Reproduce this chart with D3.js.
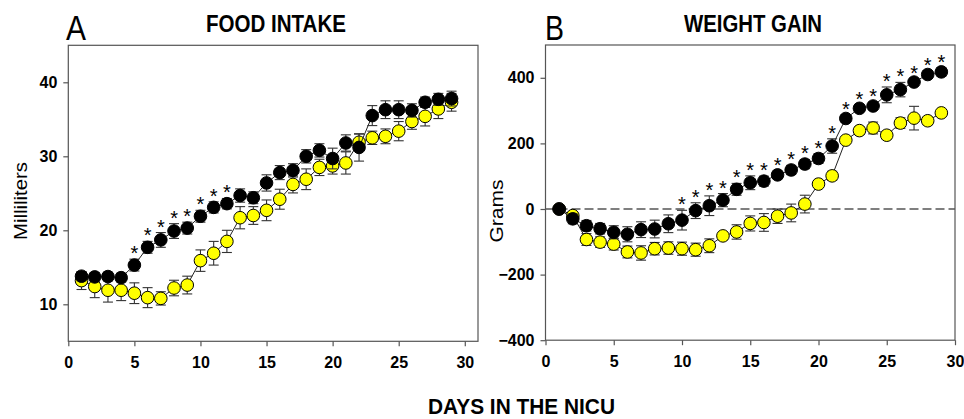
<!DOCTYPE html>
<html>
<head>
<meta charset="utf-8">
<script src="https://cdn.jsdelivr.net/npm/d3@7"></script>
<style>
  html, body { margin: 0; padding: 0; background: #fff; }
  svg { display: block; }
  text { font-family: "Liberation Sans", Arial, sans-serif; }
</style>
</head>
<body>
<svg id="chart" width="964" height="419"></svg>
<script>
// ---------- DATA ----------
const days = [1,2,3,4,5,6,7,8,9,10,11,12,13,14,15,16,17,18,19,20,21,22,23,24,25,26,27,28,29];

// Panel A: food intake (mL)
const foodBlack = [13.8,13.7,13.75,13.6,15.3,17.7,18.7,19.9,20.3,21.9,23.1,23.6,24.7,24.4,26.4,27.8,28.1,30.0,30.8,29.7,31.8,31.2,35.5,36.3,36.3,36.2,37.3,37.7,37.8];
const foodBlackErr = [0.6,0.6,0.6,0.6,0.8,0.8,1.0,1.0,0.8,0.8,0.75,0.7,0.9,0.8,1.1,0.95,0.9,0.9,0.9,1.4,1.1,1.85,1.35,1.2,1.2,0.9,0.7,0.8,1.0];
const foodYellow = [13.2,12.4,11.9,11.9,11.5,10.9,10.8,12.2,12.6,15.9,16.9,18.5,21.7,22.0,22.7,24.2,26.2,26.9,28.5,28.7,29.1,31.9,32.5,32.7,33.4,34.7,35.4,36.4,37.3];
const foodYellowErr = [1.2,1.5,1.6,1.4,1.4,1.35,0.9,1.05,1.2,1.45,1.6,1.5,1.5,1.2,1.4,1.35,1.15,1.4,1.1,1.1,1.5,1.1,0.9,1.0,1.3,1.05,1.3,1.3,1.2];
const foodStars = [5,6,7,8,9,10,11,12];

// Panel B: weight gain (g)
const weightBlack = [0,-30,-51,-60,-71,-77,-63,-61,-45,-34,-5,10,27,60,80,85,104,119,137,154,192,276,307,314,348,364,387,410,418];
const weightBlackErr = [0,15,16,16,20,23,24,27,27,30,24,30,20,18,21,15,12,14,14,15,22,12,10,11,24,22,9,12,13];
const weightYellow = [0,-20,-93,-101,-107,-131,-134,-121,-119,-121,-124,-112,-82,-70,-44,-41,-22,-12,15,76,101,210,239,247,225,262,277,269,293];
const weightYellowErr = [0,9,18,16,18,18,22,19,19,20,20,21,12,22,23,27,22,27,27,10,14,9,12,18,12,16,36,12,6];
const weightStars = [10,11,12,13,14,15,16,17,18,19,20,21,22,23,24,25,26,27,28,29];

const xTicks = [0,5,10,15,20,25,30];
const foodYTicks = [10,20,30,40];
const weightYTicks = [-400,-200,0,200,400];

// ---------- DRAW ----------
const svg = d3.select("#chart");

function panel(cfg) {
  const x = d3.scaleLinear().domain(cfg.xDomain).range(cfg.xRange);
  const y = d3.scaleLinear().domain(cfg.yDomain).range(cfg.yRange);
  const g = svg.append("g");

  // frame
  g.append("rect")
    .attr("x", cfg.xRange[0]).attr("y", cfg.yRange[1])
    .attr("width", cfg.xRange[1] - cfg.xRange[0])
    .attr("height", cfg.yRange[0] - cfg.yRange[1])
    .attr("fill", "none").attr("stroke", "#555").attr("stroke-width", 1.2);

  // axes
  const xa = g.append("g").attr("transform", `translate(0,${cfg.yRange[0]})`)
    .call(d3.axisBottom(x).tickValues(xTicks).tickSize(5).tickSizeOuter(0).tickPadding(10));
  const ya = g.append("g").attr("transform", `translate(${cfg.xRange[0]},0)`)
    .call(d3.axisLeft(y).tickValues(cfg.yTicks).tickSize(5).tickSizeOuter(0).tickPadding(6));
  [xa, ya].forEach(a => {
    a.select(".domain").remove();
    a.selectAll(".tick line").attr("stroke", "#555").attr("stroke-width", 1.2);
    a.selectAll(".tick text").attr("fill", "#000").attr("font-size", 16).attr("font-weight", "bold")
      .style("font-family", "'Liberation Sans', Arial, sans-serif");
  });

  // zero dashed line
  if (cfg.zeroLine) {
    g.append("line")
      .attr("x1", cfg.xRange[0]).attr("x2", cfg.xRange[1])
      .attr("y1", y(0)).attr("y2", y(0))
      .attr("stroke", "#555").attr("stroke-width", 1.3).attr("stroke-dasharray", "9,4");
  }

  const line = d3.line().x(d => x(d.d)).y(d => y(d.v));

  function series(vals, errs, fill) {
    const data = days.map((d, i) => ({ d, v: vals[i], e: errs[i] }));
    g.append("path").datum(data).attr("d", line)
      .attr("fill", "none").attr("stroke", "#222").attr("stroke-width", 1);
    const eb = g.append("g").attr("stroke", "#333").attr("stroke-width", 1.1);
    data.filter(p => p.e > 0).forEach(p => {
      const cx = x(p.d), y1 = y(p.v + p.e), y2 = y(p.v - p.e);
      eb.append("line").attr("x1", cx).attr("x2", cx).attr("y1", y1).attr("y2", y2);
      eb.append("line").attr("x1", cx - 5).attr("x2", cx + 5).attr("y1", y1).attr("y2", y1);
      eb.append("line").attr("x1", cx - 5).attr("x2", cx + 5).attr("y1", y2).attr("y2", y2);
    });
    g.append("g").selectAll("circle").data(data).join("circle")
      .attr("cx", p => x(p.d)).attr("cy", p => y(p.v)).attr("r", 6.3)
      .attr("fill", fill).attr("stroke", "#000").attr("stroke-width", 1);
  }

  series(cfg.yellow, cfg.yellowErr, "#ffff00");
  series(cfg.black, cfg.blackErr, "#000");

  // significance stars
  g.append("g").selectAll("text").data(cfg.stars).join("text")
    .attr("x", d => x(d))
    .attr("y", d => { const i = days.indexOf(d); return y(cfg.black[i] + cfg.blackErr[i]) + 1; })
    .attr("text-anchor", "middle").attr("font-size", 20).attr("fill", "#000")
    .text("*");

  return { x, y };
}

panel({
  xDomain: [0, 31], xRange: [68.3, 478],
  yDomain: [5, 45], yRange: [341.3, 45.3],
  yTicks: foodYTicks,
  black: foodBlack, blackErr: foodBlackErr,
  yellow: foodYellow, yellowErr: foodYellowErr,
  stars: foodStars, zeroLine: false
});

panel({
  xDomain: [0, 30], xRange: [545.5, 955],
  yDomain: [-400, 500], yRange: [340.2, 45],
  yTicks: weightYTicks,
  black: weightBlack, blackErr: weightBlackErr,
  yellow: weightYellow, yellowErr: weightYellowErr,
  stars: weightStars, zeroLine: true
});

// ---------- TEXT ----------
function txt(s, x, y, size, weight, len, anchor, rotate) {
  const t = svg.append("text").attr("x", x).attr("y", y)
    .attr("font-size", size).attr("font-weight", weight)
    .attr("text-anchor", anchor || "start").attr("fill", "#000").text(s);
  if (len) t.attr("textLength", len).attr("lengthAdjust", "spacingAndGlyphs");
  if (rotate) t.attr("transform", `rotate(-90,${x},${y})`);
  return t;
}
txt("A", 66, 40, 35, "normal", 20);
txt("B", 545, 40, 35, "normal", 19);
txt("FOOD INTAKE", 206, 32, 23, "bold", 140);
txt("WEIGHT GAIN", 684, 32, 23, "bold", 138);
txt("DAYS IN THE NICU", 428, 414, 22, "bold", 187);
txt("Milliliters", 27, 201, 18, "normal", 78, "middle", true);
txt("Grams", 503, 211, 19, "normal", 63, "middle", true);
</script>
</body>
</html>
